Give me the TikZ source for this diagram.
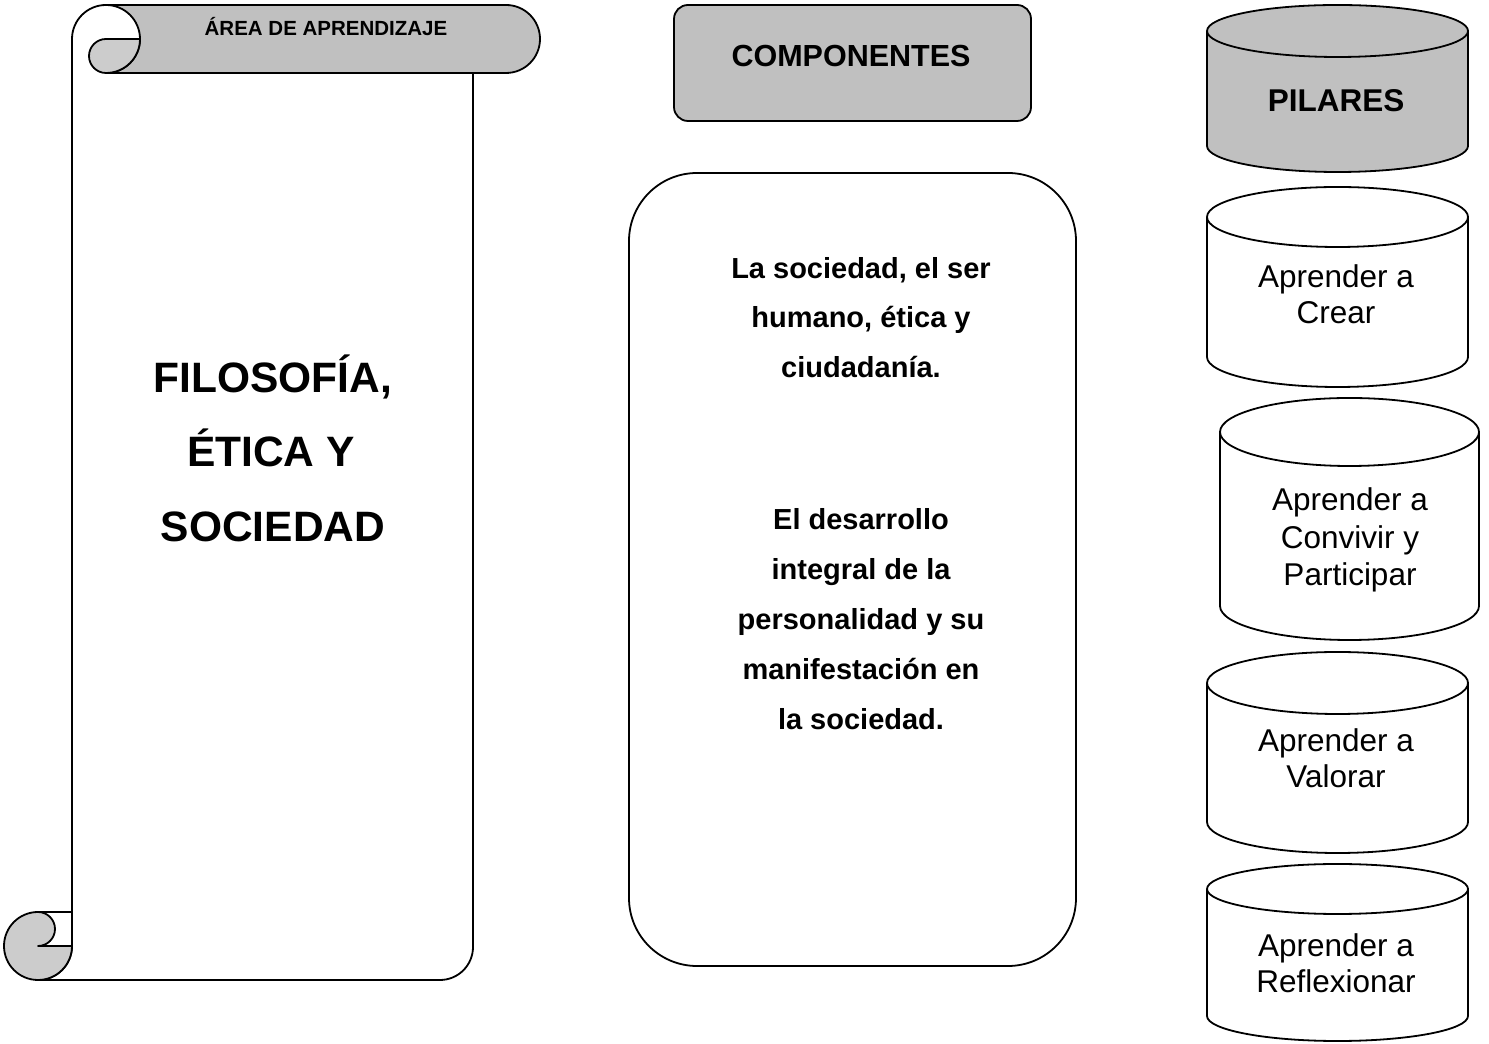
\documentclass[tikz,border=0pt]{standalone}
\usepackage{fontspec}
\setmainfont{Liberation Sans}
\definecolor{hdrgray}{HTML}{C0C0C0}
\definecolor{curlgray}{HTML}{CCCCCC}
\newcommand\drawpilar[6]{%
  \pgfmathsetmacro\prx{(#2-#1)/2}%
  \draw[fill=#6] (#1,#3-#5) -- (#1,#4+#5)
     arc[start angle=180,end angle=360,x radius=\prx pt,y radius=#5 pt]
     -- (#2,#3-#5)
     arc[start angle=0,end angle=180,x radius=\prx pt,y radius=#5 pt] -- cycle;
  \draw (#1,#3-#5) arc[start angle=180,end angle=360,x radius=\prx pt,y radius=#5 pt];
}
\tikzset{
  lbl/.style={anchor=base, inner sep=0pt, outer sep=0pt},
  areatxt/.style={lbl, font=\fontsize{20.5}{24}\selectfont\bfseries},
  bigtxt/.style={lbl, font=\fontsize{42.5}{50}\selectfont\bfseries},
  comptxt/.style={lbl, font=\fontsize{30.5}{36}\selectfont\bfseries},
  piltxt/.style={lbl, font=\fontsize{31.5}{36}\selectfont\bfseries},
  soctxt/.style={lbl, font=\fontsize{29}{34}\selectfont\bfseries},
  aprtxt/.style={lbl, font=\fontsize{31.5}{36}\selectfont},
}
\begin{document}
\begin{tikzpicture}[x=1pt,y=1pt,line width=1.8pt,line join=round]
\useasboundingbox (0,0) rectangle (1489,1044);
\fill[white] (0,0) rectangle (1489,1044);

% ---------- scroll ----------
\draw[fill=white] (72,1005) -- (72,98)
   arc[start angle=0,end angle=-90,radius=34pt] -- (440,64)
   arc[start angle=-90,end angle=0,radius=33pt] -- (473,971);
\draw[fill=hdrgray] (106,1039) -- (506,1039)
   arc[start angle=90,end angle=-90,radius=34pt] -- (106,971)
   arc[start angle=-90,end angle=90,radius=34pt] -- cycle;
\draw (72,1005) arc[start angle=180,end angle=90,radius=34pt];
\draw[fill=curlgray] (106,1005) -- (140,1005)
   arc[start angle=0,end angle=-90,radius=34pt]
   arc[start angle=270,end angle=90,radius=17pt] -- cycle;
\draw[fill=curlgray] (38,132) arc[start angle=90,end angle=360,radius=34pt]
   -- (38,98) arc[start angle=-90,end angle=90,radius=17pt] -- cycle;
\draw (38,132) -- (72,132);

\node[areatxt] (area) at (326,1008.7) {ÁREA DE APRENDIZAJE};
\node[bigtxt] (fil1) at (273,651) {FILOSOFÍA,};
\node[bigtxt] (fil2) at (271,577) {ÉTICA Y};
\node[bigtxt] (fil3) at (273,502) {SOCIEDAD};

% ---------- components ----------
\draw[fill=hdrgray,rounded corners=14pt] (674,923) rectangle (1031,1039);
\node[comptxt] (comp) at (851,977) {COMPONENTES};
\draw[rounded corners=68pt] (629,78) rectangle (1076,871);
\node[soctxt] (s1) at (861,765) {La sociedad, el ser};
\node[soctxt] (s2) at (861,716) {humano, ética y};
\node[soctxt] (s3) at (861,666) {ciudadanía.};
\node[soctxt] (d1) at (861,514) {El desarrollo};
\node[soctxt] (d2) at (861,464) {integral de la};
\node[soctxt] (d3) at (861,414) {personalidad y su};
\node[soctxt] (d4) at (861,364) {manifestación en};
\node[soctxt] (d5) at (861,314) {la sociedad.};

% ---------- pillars ----------
\drawpilar{1207}{1468}{1039}{872}{26}{hdrgray}
\drawpilar{1207}{1468}{857}{657}{30}{white}
\drawpilar{1220}{1479}{646}{404}{34}{white}
\drawpilar{1207}{1468}{392}{191}{31}{white}
\drawpilar{1207}{1468}{180}{3}{25}{white}

\node[piltxt] (pil) at (1336,932) {PILARES};
\node[aprtxt] (c1) at (1336,756) {Aprender a};
\node[aprtxt] (c2) at (1336,720) {Crear};
\node[aprtxt] (v1) at (1350,533) {Aprender a};
\node[aprtxt] (v2) at (1350,495) {Convivir y};
\node[aprtxt] (v3) at (1350,458) {Participar};
\node[aprtxt] (w1) at (1336,292) {Aprender a};
\node[aprtxt] (w2) at (1336,256) {Valorar};
\node[aprtxt] (r1) at (1336,87) {Aprender a};
\node[aprtxt] (r2) at (1336,51) {Reflexionar};
\end{tikzpicture}
\end{document}
